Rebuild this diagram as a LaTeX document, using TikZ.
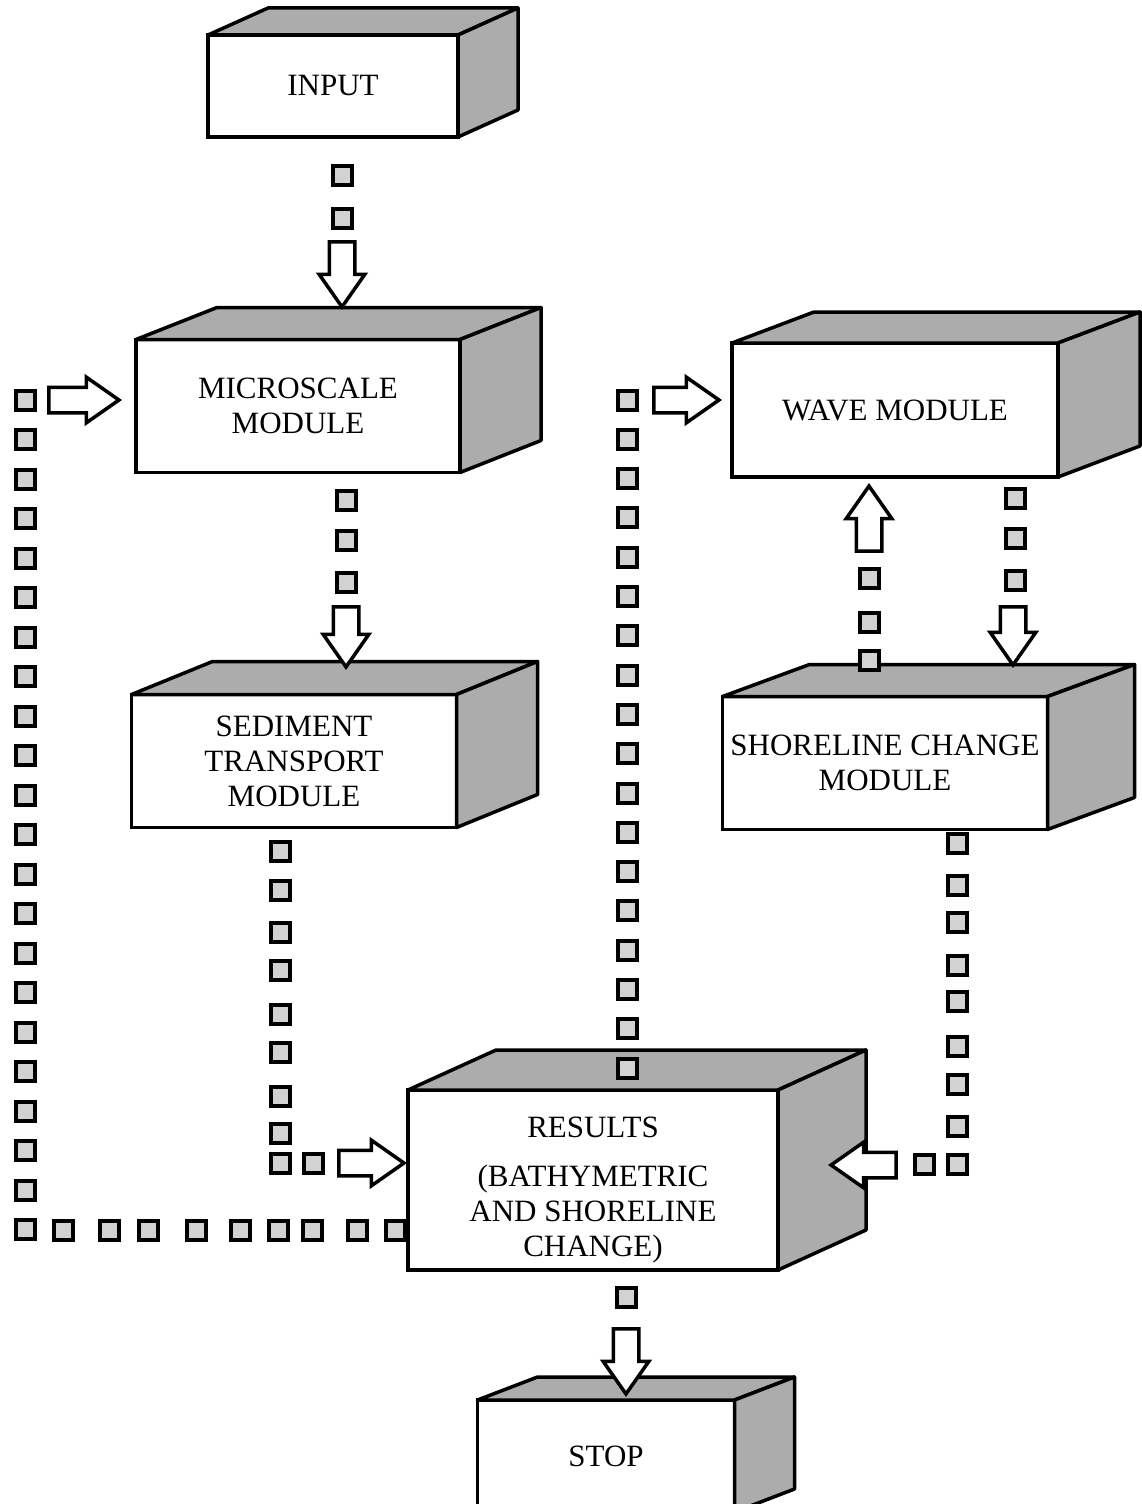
\documentclass[tikz,border=0pt]{standalone}
\usepackage{fontspec}
\setmainfont{Liberation Serif}
\usetikzlibrary{calc,shapes.arrows}

\begin{document}
\begin{tikzpicture}[x=1pt,y=-1pt,box/.style={draw,line width=3.5pt,fill=white,inner sep=0pt,outer sep=0pt,align=center,font=\fontsize{31}{35}\selectfont},face/.style={draw,line width=3.5pt,line join=round,fill=gray!65},sq/.style={draw,line width=4pt,fill=gray!35,minimum size=19pt,inner sep=0pt,outer sep=0pt},blk/.style={single arrow,draw,line width=3.5pt,fill=white,inner xsep=0pt,inner ysep=11pt,single arrow head extend=10pt,single arrow tip angle=70,minimum height=65pt,anchor=tip}]
\useasboundingbox (0,0) rectangle (1142,1504);
% modules
\node[box,minimum width=250pt,minimum height=102pt] (input) at (333,86) {INPUT};
\node[box,minimum width=324pt,minimum height=133pt] (micro) at (298,406) {MICROSCALE\\MODULE};
\node[box,minimum width=326pt,minimum height=134pt] (wave) at (895,410) {WAVE MODULE};
\node[box,minimum width=325pt,minimum height=133pt] (sed) at (294,761) {SEDIMENT\\TRANSPORT\\MODULE};
\node[box,minimum width=325pt,minimum height=133pt] (shore) at (885,763) {SHORELINE CHANGE\\MODULE};
\node[box,minimum width=370pt,minimum height=180pt] (res) at (593,1180) {\rule{0pt}{40pt}RESULTS\\[14pt](BATHYMETRIC\\AND SHORELINE\\CHANGE)};
\node[box,minimum width=257pt,minimum height=112pt] (stop) at (606,1456) {STOP};
\foreach \n/\dx/\dy in {input/60/-27,micro/81/-32,wave/82/-31,sed/81/-33,shore/87/-32,res/88/-40,stop/60/-23}{
  \draw[face] (\n.north west) -- ++(\dx,\dy) -- ($(\n.north east)+(\dx,\dy)$) -- (\n.north east) -- cycle;
  \draw[face] (\n.north east) -- ++(\dx,\dy) -- ($(\n.south east)+(\dx,\dy)$) -- (\n.south east) -- cycle;
}
% square chains
\foreach \y [count=\i] in {175,218} \node[sq] (i\i) at (342,\y) {};
\foreach \y [count=\i] in {500,540,582} \node[sq] (m\i) at (346,\y) {};
\foreach \y [count=\i] in {851,890,932,970,1014,1052,1096,1133,1163} \node[sq] (s\i) at (280,\y) {};
\node[sq] (s10) at (313,1163) {};
\foreach \k in {0,...,21} \node[sq] (l\k) at (25,{400+39.5*\k}) {};
\foreach \x [count=\i] in {63,109,148,196,240,278,312,357,395} \node[sq] (b\i) at (\x,1230) {};
\foreach \k in {0,...,17} \node[sq] (r\k) at (627,{400+39.3*\k}) {};
\foreach \y [count=\i] in {578,622,660} \node[sq] (u\i) at (869,\y) {};
\foreach \y [count=\i] in {498,538,580} \node[sq] (d\i) at (1015,\y) {};
\foreach \y [count=\i] in {843,885,922,965,1001,1046,1084,1126,1164} \node[sq] (h\i) at (957,\y) {};
\node[sq] (h10) at (924,1164) {};
\node[sq] (t1) at (626,1297) {};
% hollow arrows
\node[blk,rotate=-90] (a1) at (342,310) {};
\node[blk,rotate=-90,minimum height=60pt] (a2) at (346,670) {};
\node[blk] (a3) at (407,1163) {};
\node[blk,minimum height=70pt] (a4) at (122,400) {};
\node[blk] (a5) at (722,400) {};
\node[blk,rotate=90] (a6) at (869,483) {};
\node[blk,rotate=-90,minimum height=58pt] (a7) at (1013,668) {};
\node[blk,rotate=180] (a8) at (828,1165) {};
\node[blk,rotate=-90] (a9) at (626,1397) {};
\end{tikzpicture}
\end{document}
